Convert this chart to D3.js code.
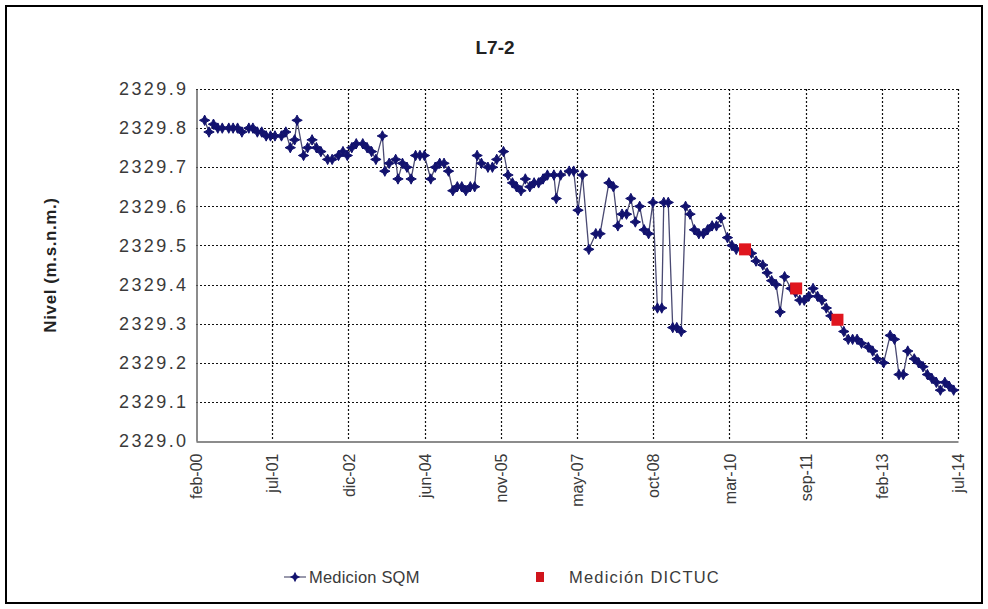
<!DOCTYPE html>
<html>
<head>
<meta charset="utf-8">
<script src="https://cdn.jsdelivr.net/npm/d3@7"></script>
<style>
  body { margin: 0; background: #fff; }
  text { font-family: "Liberation Sans", Arial, sans-serif; }
</style>
</head>
<body>
<svg id="chart" width="988" height="609"></svg>
<script>
// Water level series, well L7-2 (m.s.n.m.)
const sqmDates = [
  "2000-04-01","2000-05-01","2000-06-01","2000-07-01","2000-08-01","2000-09-15","2000-10-15","2000-11-15","2000-12-15",
  "2001-02-01","2001-03-01","2001-04-01","2001-05-01","2001-06-01","2001-07-01","2001-08-01","2001-09-15","2001-10-15",
  "2001-11-15","2001-12-15","2002-01-01","2002-02-15","2002-03-15","2002-04-15","2002-05-15","2002-06-15","2002-08-01",
  "2002-09-01","2002-10-15","2002-11-15","2002-12-15","2003-01-15","2003-02-15","2003-04-01","2003-05-01","2003-06-01",
  "2003-07-01","2003-08-15","2003-09-01","2003-10-01","2003-11-15","2003-12-01","2004-01-01","2004-02-01","2004-03-01",
  "2004-04-01","2004-05-01","2004-06-01","2004-07-15","2004-08-15","2004-09-15","2004-10-15","2004-11-15","2004-12-15",
  "2005-01-15","2005-02-15","2005-03-15","2005-04-15","2005-05-15","2005-06-01","2005-07-01","2005-08-15","2005-09-15",
  "2005-10-15","2005-12-01","2006-01-01","2006-02-01","2006-03-01","2006-04-01","2006-05-01","2006-06-01","2006-07-01",
  "2006-08-01","2006-09-01","2006-10-01","2006-11-15","2006-12-01","2007-01-01","2007-03-01","2007-04-01","2007-05-01",
  "2007-06-01","2007-07-15","2007-09-01","2007-10-01","2007-12-01","2008-01-01","2008-02-01","2008-03-01","2008-04-01",
  "2008-05-01","2008-06-01","2008-07-01","2008-08-01","2008-09-01","2008-10-01","2008-11-01","2008-12-01","2008-12-15",
  "2009-01-15","2009-02-15","2009-03-15","2009-04-15","2009-05-15","2009-06-15","2009-07-15","2009-08-15","2009-09-15",
  "2009-10-15","2009-11-15","2009-12-15","2010-01-15","2010-03-01","2010-04-01","2010-05-01","2010-06-15","2010-08-15",
  "2010-09-15","2010-11-01","2010-12-01","2011-01-01","2011-02-01","2011-03-01","2011-04-01","2011-05-15","2011-06-15",
  "2011-07-15","2011-08-15","2011-09-15","2011-10-15","2011-11-15","2011-12-15","2012-01-15","2012-02-15","2012-04-01",
  "2012-05-15","2012-06-15","2012-07-15","2012-08-15","2012-09-15","2012-11-01","2012-12-01","2013-01-01","2013-02-15",
  "2013-04-01","2013-05-01","2013-06-01","2013-07-01","2013-08-01","2013-09-15","2013-10-15","2013-11-15","2013-12-15",
  "2014-01-15","2014-02-15","2014-03-15","2014-04-15","2014-05-15","2014-06-15"
];
const sqmValues = [
  2329.82,2329.79,2329.81,2329.80,2329.80,2329.80,2329.80,2329.80,2329.79,
  2329.80,2329.80,2329.79,2329.79,2329.78,2329.78,2329.78,2329.78,2329.79,
  2329.75,2329.77,2329.82,2329.73,2329.75,2329.77,2329.75,2329.74,2329.72,
  2329.72,2329.73,2329.74,2329.73,2329.75,2329.76,2329.76,2329.75,2329.74,
  2329.72,2329.78,2329.69,2329.71,2329.72,2329.67,2329.71,2329.70,2329.67,
  2329.73,2329.73,2329.73,2329.67,2329.70,2329.71,2329.71,2329.69,2329.64,
  2329.65,2329.65,2329.64,2329.65,2329.65,2329.73,2329.71,2329.70,2329.70,
  2329.72,2329.74,2329.68,2329.66,2329.65,2329.64,2329.67,2329.65,2329.66,
  2329.66,2329.67,2329.68,2329.68,2329.62,2329.68,2329.69,2329.69,2329.59,
  2329.68,2329.49,2329.53,2329.53,2329.66,2329.65,2329.55,2329.58,2329.58,
  2329.62,2329.56,2329.60,2329.54,2329.53,2329.61,2329.34,2329.34,2329.61,
  2329.61,2329.29,2329.29,2329.28,2329.60,2329.58,2329.54,2329.53,2329.53,
  2329.54,2329.55,2329.55,2329.57,2329.52,2329.50,2329.49,2329.49,2329.48,
  2329.46,2329.45,2329.43,2329.41,2329.40,2329.33,2329.42,2329.39,2329.38,
  2329.36,2329.36,2329.37,2329.39,2329.37,2329.36,2329.34,2329.32,2329.31,
  2329.28,2329.26,2329.26,2329.26,2329.25,2329.24,2329.23,2329.21,2329.20,
  2329.27,2329.26,2329.17,2329.17,2329.23,2329.21,2329.20,2329.19,2329.17,
  2329.16,2329.15,2329.13,2329.15,2329.14,2329.13
];
const dictucDates = ["2010-07-01", "2011-06-20", "2012-04-01"];
const dictucValues = [2329.49, 2329.39, 2329.31];

const yTicks = [2329.0, 2329.1, 2329.2, 2329.3, 2329.4, 2329.5, 2329.6, 2329.7, 2329.8, 2329.9];
const xTickLabels = ["feb-00", "jul-01", "dic-02", "jun-04", "nov-05", "may-07",
                     "oct-08", "mar-10", "sep-11", "feb-13", "jul-14"];
const xDomain = ["2000-02-01", "2014-07-15"];

const title = "L7-2";
const yTitle = "Nivel (m.s.n.m.)";
const seriesNames = ["Medicion SQM", "Medición DICTUC"];

const parse = d3.utcParse("%Y-%m-%d");
const sqm = sqmDates.map((d, i) => ({ date: parse(d), value: sqmValues[i] }));
const dictuc = dictucDates.map((d, i) => ({ date: parse(d), value: dictucValues[i] }));

const svg = d3.select("#chart");
const W = 988, H = 609;
const plot = { left: 196, right: 958, top: 89, bottom: 441 };

// outer frame
svg.append("rect")
  .attr("x", 6).attr("y", 6).attr("width", W - 12).attr("height", H - 12)
  .attr("fill", "#fff").attr("stroke", "#000").attr("stroke-width", 2);

const x = d3.scaleUtc().domain(xDomain.map(parse)).range([plot.left, plot.right]);
const y = d3.scaleLinear().domain([2329.0, 2329.9]).range([plot.bottom, plot.top]);

const xTickDates = xTickLabels.map((_, i) => {
  const [a, b] = x.domain();
  return new Date(+a + (b - a) * i / (xTickLabels.length - 1));
});

// gridlines
const grid = svg.append("g").attr("stroke", "#111").attr("stroke-width", 1.2)
  .attr("stroke-dasharray", "2,2").attr("fill", "none");
grid.selectAll(".h").data(yTicks.slice(1)).join("line")
  .attr("x1", plot.left).attr("x2", plot.right)
  .attr("y1", d => Math.round(y(d)) + 0.5).attr("y2", d => Math.round(y(d)) + 0.5);
grid.selectAll(".v").data(xTickDates.slice(1)).join("line")
  .attr("y1", plot.top).attr("y2", plot.bottom)
  .attr("x1", d => Math.round(x(d)) + 0.5).attr("x2", d => Math.round(x(d)) + 0.5);

// axes
const yAxis = d3.axisLeft(y).tickValues(yTicks).tickSize(0).tickPadding(8)
  .tickFormat(d3.format(".1f"));
const gy = svg.append("g").attr("transform", `translate(${plot.left + 0.5},0)`).call(yAxis);
gy.select(".domain").attr("stroke", "#666").attr("stroke-width", 1.5);
gy.selectAll("text").attr("font-size", 18).attr("letter-spacing", 2.4).attr("fill", "#3a3a3a");

const xAxis = d3.axisBottom(x).tickValues(xTickDates).tickSize(0).tickPadding(0)
  .tickFormat((d, i) => xTickLabels[i]);
const gx = svg.append("g").attr("transform", `translate(0,${plot.bottom + 0.5})`).call(xAxis);
gx.select(".domain").attr("stroke", "#666").attr("stroke-width", 1.5);
gx.selectAll("text")
  .attr("font-size", 16).attr("fill", "#3a3a3a")
  .attr("text-anchor", "end")
  .attr("transform", "rotate(-90)")
  .attr("x", -12).attr("y", 0).attr("dy", "0.35em");

// series line
const line = d3.line().x(d => x(d.date)).y(d => y(d.value));
svg.append("path").datum(sqm)
  .attr("d", line).attr("fill", "none")
  .attr("stroke", "#4a4a72").attr("stroke-width", 1.3);

// four-pointed marker
const starMarker = {
  draw(ctx, size) {
    const r = Math.sqrt(size) * 0.75, k = r * 0.34;
    ctx.moveTo(0, -r); ctx.lineTo(k, -k); ctx.lineTo(r, 0); ctx.lineTo(k, k);
    ctx.lineTo(0, r); ctx.lineTo(-k, k); ctx.lineTo(-r, 0); ctx.lineTo(-k, -k);
    ctx.closePath();
  }
};
const markerPath = d3.symbol().type(starMarker).size(48)();
svg.append("g").selectAll("path").data(sqm).join("path")
  .attr("d", markerPath)
  .attr("transform", d => `translate(${x(d.date)},${y(d.value)})`)
  .attr("fill", "#12126e").attr("stroke", "#12126e").attr("stroke-width", 1);

// DICTUC squares
svg.append("g").selectAll("rect").data(dictuc).join("rect")
  .attr("x", d => x(d.date) - 6).attr("y", d => y(d.value) - 6)
  .attr("width", 12).attr("height", 12)
  .attr("fill", "#e0161e");

// title
svg.append("text").attr("x", 495).attr("y", 54).attr("text-anchor", "middle")
  .attr("font-size", 19).attr("font-weight", "bold").attr("fill", "#222").text(title);

svg.append("text").attr("transform", "translate(56,265) rotate(-90)")
  .attr("text-anchor", "middle").attr("font-size", 17).attr("font-weight", "bold")
  .attr("letter-spacing", 0.6).attr("fill", "#222").text(yTitle);

// legend
const lg = svg.append("g").attr("transform", "translate(0,577)");
lg.append("line").attr("x1", 284).attr("x2", 306).attr("y1", 0).attr("y2", 0)
  .attr("stroke", "#777790").attr("stroke-width", 1.5);
lg.append("path").attr("d", markerPath).attr("transform", "translate(295,0)")
  .attr("fill", "#12126e");
lg.append("text").attr("x", 309).attr("y", 0).attr("dy", "0.35em")
  .attr("font-size", 16.5).attr("letter-spacing", 0.2).attr("fill", "#3a3a3a").text(seriesNames[0]);
lg.append("rect").attr("x", 536).attr("y", -5).attr("width", 8).attr("height", 10)
  .attr("fill", "#d0141c");
lg.append("text").attr("x", 569).attr("y", 0).attr("dy", "0.35em")
  .attr("font-size", 16.5).attr("letter-spacing", 1.2).attr("fill", "#3a3a3a").text(seriesNames[1]);
</script>
</body>
</html>
